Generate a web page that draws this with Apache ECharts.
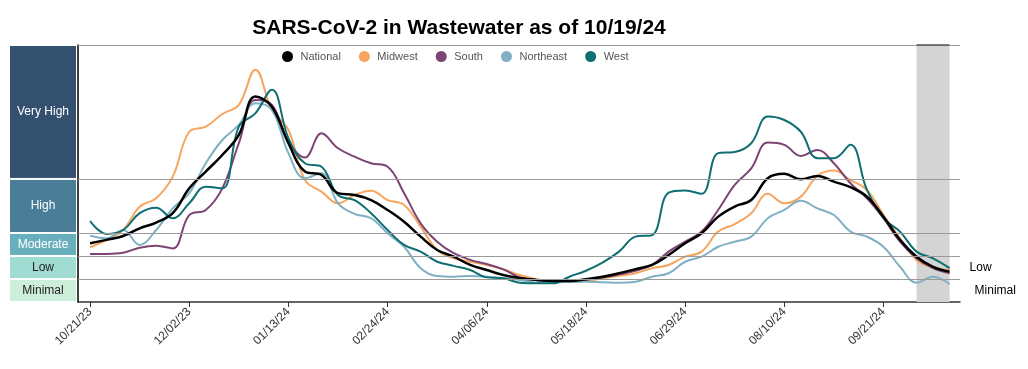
<!DOCTYPE html>
<html><head><meta charset="utf-8">
<script src="https://cdn.jsdelivr.net/npm/echarts@6/dist/echarts.min.js"></script>
<style>html,body{margin:0;padding:0;background:#fff}#c{width:1028px;height:369px}</style>
</head><body><div id="c"></div>
<script>
// ---- data ----
const weeks = ['10/21/23','10/28/23','11/04/23','11/11/23','11/18/23','11/25/23','12/02/23','12/09/23','12/16/23','12/23/23','12/30/23',
  '01/06/24','01/13/24','01/20/24','01/27/24','02/03/24','02/10/24','02/17/24','02/24/24','03/02/24','03/09/24','03/16/24','03/23/24','03/30/24',
  '04/06/24','04/13/24','04/20/24','04/27/24','05/04/24','05/11/24','05/18/24','05/25/24','06/01/24','06/08/24','06/15/24','06/22/24',
  '06/29/24','07/06/24','07/13/24','07/20/24','07/27/24','08/03/24','08/10/24','08/17/24','08/24/24','08/31/24','09/07/24','09/14/24',
  '09/21/24','09/28/24','10/05/24','10/12/24','10/19/24'];
const tickLabels = ['10/21/23','12/02/23','01/13/24','02/24/24','04/06/24','05/18/24','06/29/24','08/10/24','09/21/24'];
const national  = [2.55,2.70,2.87,3.20,3.45,3.86,4.94,5.67,6.39,7.26,8.93,8.49,6.90,5.67,5.52,4.73,4.65,4.43,4.00,3.49,2.84,2.26,1.97,1.61,1.39,1.17,1.04,0.96,0.91,0.91,0.99,1.10,1.25,1.43,1.61,2.04,2.55,2.99,3.71,4.15,4.43,5.38,5.57,5.33,5.48,5.23,4.99,4.58,3.71,2.70,1.97,1.53,1.32];
const midwest   = [2.38,2.70,3.13,4.14,4.51,5.45,7.40,7.62,8.17,8.57,10.09,8.35,7.48,5.30,4.80,4.29,4.65,4.84,4.43,4.22,3.27,2.26,1.90,1.75,1.61,1.42,1.17,0.99,0.91,0.88,0.91,1.03,1.14,1.25,1.47,1.61,1.97,2.19,3.06,3.39,3.86,4.70,4.29,4.58,5.48,5.71,5.30,4.87,3.78,2.77,1.83,1.49,1.39];
const south     = [2.09,2.09,2.14,2.36,2.45,2.33,3.78,4.00,4.94,6.90,8.78,8.57,6.97,6.28,7.33,6.68,6.32,6.03,5.88,4.73,3.42,2.62,2.12,1.83,1.65,1.42,1.07,0.96,0.88,0.88,0.96,1.06,1.20,1.36,1.61,2.19,2.62,3.06,4.00,5.09,5.81,6.93,6.83,6.35,6.61,6.03,5.16,4.51,3.64,2.62,1.90,1.47,1.25];
const northeast = [2.88,2.77,3.13,2.48,3.13,4.07,4.73,6.03,7.04,7.70,8.64,8.35,6.47,5.38,5.60,4.29,3.83,3.64,2.99,2.40,1.47,1.13,1.10,1.13,1.10,1.03,0.96,0.84,0.84,0.88,0.88,0.86,0.84,0.88,1.10,1.25,1.75,1.97,2.40,2.62,2.84,3.64,4.00,4.40,4.07,3.78,3.06,2.84,2.40,1.53,0.84,1.10,0.78];
const west      = [3.52,2.96,3.13,3.86,4.10,3.64,4.29,5.01,4.94,7.62,8.20,9.22,7.12,6.03,5.88,4.65,4.43,3.86,3.13,2.48,2.19,1.75,1.57,1.39,1.07,1.03,0.84,0.81,0.81,1.10,1.36,1.71,2.19,2.84,2.91,4.75,4.85,4.70,6.47,6.52,6.90,8.06,7.91,7.40,6.25,6.25,6.83,4.87,3.64,3.06,2.19,1.90,1.47];
const levelNames = ['Minimal','Low','Moderate','High','Very High'];
const levelTops  = [1, 2, 3, 5.35, 11.17];
const incompleteFrom = '10/05/24';

// ---- styles ----
const FONT = '"Liberation Sans", Arial, sans-serif';
const levelColors = ['#cdeeda','#a0dcd2','#68afbe','#4a7d98','#34506f'];
const levelTextColors = ['#222','#222','#fff','#fff','#fff'];
const seriesStyle = {
  National:  {color:'#000000', width:2.5},
  Midwest:   {color:'#f6a55e', width:2},
  South:     {color:'#7d4473', width:2},
  Northeast: {color:'#7fb0c4', width:2},
  West:      {color:'#0f6e72', width:2}
};
const yMax = levelTops[levelTops.length-1];
const levelOf = v => levelNames[levelTops.findIndex(t => v <= t)];
const lastIdx = weeks.length - 1;
const incIdx = weeks.indexOf(incompleteFrom);

function lineSeries(name, values, extra) {
  const s = seriesStyle[name];
  return Object.assign({
    type: 'line', name, xAxisIndex: 0, yAxisIndex: 0,
    data: values.map((v, i) => [i, v]),
    smooth: 0.4, symbol: 'none', showSymbol: false,
    itemStyle: {color: s.color},
    lineStyle: {color: s.color, width: s.width},
    emphasis: {disabled: true}
  }, extra || {});
}

const markLineBase = {silent: true, symbol: 'none', label: {show: false}, animation: false};

const series = [
  lineSeries('Midwest', midwest, {
    clip: false,
    markArea: {silent: true, itemStyle: {color: '#d4d4d4'},
      data: [[{xAxis: incIdx}, {xAxis: lastIdx}]]},
    markLine: Object.assign({}, markLineBase, {
      lineStyle: {color: '#9a9a9a', width: 1, type: 'solid'},
      data: levelTops.map(t => ({yAxis: t}))
    })
  }),
  lineSeries('South', south, {
    clip: false,
    markLine: Object.assign({}, markLineBase, {
      lineStyle: {color: '#555', width: 1.5, type: 'solid'},
      data: [
        [{coord: [incIdx, yMax]}, {coord: [lastIdx, yMax]}],
        [{coord: [incIdx, yMax - 0.17]}, {coord: [incIdx, yMax + 0.17]}],
        [{coord: [lastIdx, yMax - 0.17]}, {coord: [lastIdx, yMax + 0.17]}]
      ]
    })
  }),
  lineSeries('Northeast', northeast, {
    endLabel: {show: true, formatter: p => levelOf(p.value[1]), color: '#000', fontSize: 12, fontFamily: FONT, distance: 25, offset: [0, 7]}
  }),
  lineSeries('West', west),
  lineSeries('National', national, {
    endLabel: {show: true, formatter: p => levelOf(p.value[1]), color: '#000', fontSize: 12, fontFamily: FONT, distance: 20, offset: [0, -4]}
  })
];

levelNames.forEach((n, i) => {
  series.push({
    type: 'bar', name: n, xAxisIndex: 1, yAxisIndex: 1, stack: 'levels', barWidth: '100%', silent: true,
    data: [levelTops[i] - (i ? levelTops[i-1] : 0)],
    itemStyle: {color: levelColors[i], borderColor: '#fff', borderWidth: 1},
    label: {show: true, position: 'inside', formatter: n, color: levelTextColors[i], fontSize: 12, fontFamily: FONT}
  });
});

const option = {
  animation: false,
  textStyle: {fontFamily: FONT},
  title: {
    text: 'SARS-CoV-2 in Wastewater as of 10/19/24',
    left: 454, textAlign: 'center', top: 13,
    textStyle: {fontSize: 21, fontWeight: 'bold', color: '#000', fontFamily: FONT}
  },
  legend: {
    data: ['National','Midwest','South','Northeast','West'],
    left: 272, top: 40, padding: [11, 10, 5, 10], backgroundColor: '#fff',
    icon: 'circle', itemWidth: 16, itemHeight: 11, itemGap: 18,
    textStyle: {fontSize: 11, color: '#555', fontFamily: FONT},
    selectedMode: false
  },
  grid: [
    {left: 78, right: 68, top: 45, bottom: 67},
    {left: 9, width: 68, top: 45, bottom: 67}
  ],
  xAxis: [
    {
      type: 'value', gridIndex: 0, min: -0.73, max: 52.63,
      splitLine: {show: false},
      axisLine: {show: true, onZero: false, lineStyle: {color: '#333', width: 1.5}},
      axisTick: {show: true, length: 5, lineStyle: {color: '#333', width: 1}, customValues: tickLabels.map(d => weeks.indexOf(d))},
      axisLabel: {customValues: tickLabels.map(d => weeks.indexOf(d)), formatter: v => weeks[v], rotate: 45, fontSize: 12, color: '#333', margin: 8, fontFamily: FONT}
    },
    {type: 'category', gridIndex: 1, data: [''], show: false}
  ],
  yAxis: [
    {
      type: 'value', gridIndex: 0, min: 0, max: yMax,
      splitLine: {show: false}, axisTick: {show: false}, axisLabel: {show: false},
      axisLine: {show: true, onZero: false, lineStyle: {color: '#000', width: 1.5}}
    },
    {type: 'value', gridIndex: 1, min: 0, max: yMax, show: false}
  ],
  series
};
echarts.init(document.getElementById('c'), null, {renderer: 'canvas'}).setOption(option);
</script>
</body></html>
